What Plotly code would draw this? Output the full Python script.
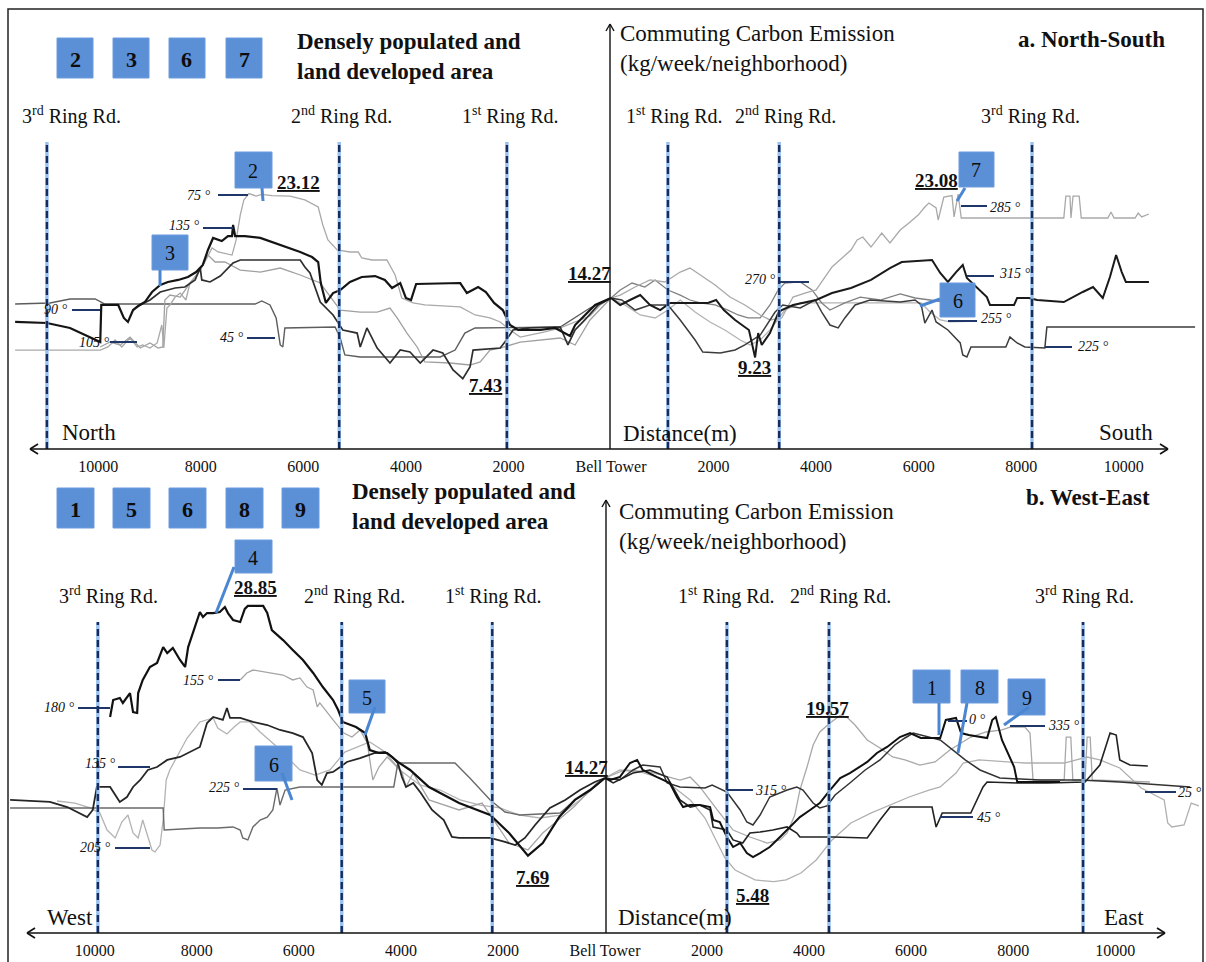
import plotly.graph_objects as go

W, H = 1206, 962
SERIF = "Liberation Serif, Times New Roman, Times, serif"

# ---------------- axis ticks ----------------
tick_vals = [-10000, -8000, -6000, -4000, -2000, 0, 2000, 4000, 6000, 8000, 10000]
tick_text = ["10000", "8000", "6000", "4000", "2000", "Bell Tower",
             "2000", "4000", "6000", "8000", "10000"]

# ring roads (distance from Bell Tower, m; negative = North / West)
a_rings = [-11000, -5300, -2030, 1110, 3280, 8210]
b_rings = [-9940, -5160, -2210, 2390, 4390, 9370]

# ================= panel a : North-South =================
# North side
a_n75_d = [-11620, -9960, -9810, -9670, -9540, -9380, -9240, -9130, -8990, -8850, -8760, -8720, -8660, -8600, -8500, -8400, -8290, -8210, -8070, -7920, -7780, -7660, -7390, -7310, -7230, -7160, -7060, -6920, -6810, -6610, -6260, -5970, -5710, -5620, -5520, -5340, -5090, -4930, -4860, -4660, -4370, -4210, -4080, -3860, -3630, -3240, -2940, -2650, -2360, -2160, -1970, -1770, -1580, -1290, -990, -700, -410, -210, 0]
a_n75_v = [9.86, 9.86, 10.12, 10.71, 10.12, 10.88, 10.12, 10.29, 10.03, 10.46, 11.98, 10.03, 13.42, 13.68, 14.35, 14.69, 14.10, 15.54, 16.30, 17.32, 18.51, 18.17, 17.91, 19.19, 21.30, 22.58, 23.12, 22.91, 23.05, 22.95, 22.91, 22.58, 21.98, 20.46, 19.19, 18.34, 18.17, 18.17, 17.66, 17.49, 17.49, 16.22, 14.27, 13.85, 13.68, 13.59, 13.51, 12.83, 12.58, 12.24, 11.56, 10.96, 11.13, 11.39, 11.73, 12.24, 12.74, 13.68, 14.27]

a_n135_d = [-11620, -11000, -10550, -10260, -10060, -9960, -9940, -9610, -9500, -9420, -9320, -9220, -9090, -8950, -8790, -8640, -8440, -8250, -8090, -7960, -7860, -7760, -7590, -7470, -7390, -7370, -7330, -7140, -6840, -6550, -6260, -6060, -5830, -5710, -5660, -5560, -5420, -5280, -5090, -4860, -4600, -4410, -4270, -4110, -4000, -3900, -3800, -2940, -2810, -2590, -2440, -2280, -2110, -1970, -1810, -1380, -1090, -900, -800, -700, -510, -310, 0]
a_n135_v = [12.24, 12.15, 11.73, 11.13, 10.71, 10.54, 13.68, 13.68, 12.58, 12.24, 13.25, 13.59, 13.93, 14.78, 15.37, 15.63, 15.80, 16.05, 16.47, 17.07, 18.34, 19.36, 19.10, 19.52, 19.52, 20.46, 19.52, 19.52, 19.36, 18.93, 18.51, 18.17, 17.74, 17.32, 15.54, 13.85, 14.69, 14.95, 15.63, 16.05, 16.13, 15.80, 15.12, 15.54, 14.27, 14.10, 15.46, 15.54, 14.69, 15.20, 14.78, 13.85, 13.25, 11.98, 11.56, 11.56, 11.73, 11.30, 11.05, 11.98, 12.83, 13.68, 14.27]

a_n90_d = [-9220, -8990, -8790, -8500, -8310, -8110, -8010, -7980, -7820, -7620, -7370, -7230, -6060, -5970, -5870, -5670, -5420, -5230, -4950, -4890, -4760, -4560, -4310, -4110, -3920, -3720, -3470, -3280, -3080, -2890, -2750, -2690, -2160, -2070, -1910, -1580, -990, -840, -700, -510, -250, 0]
a_n90_v = [13.59, 14.10, 14.78, 15.12, 15.20, 15.80, 16.81, 15.80, 15.63, 16.13, 17.24, 17.49, 17.49, 16.90, 16.39, 13.93, 12.83, 11.56, 11.30, 10.12, 11.73, 10.03, 8.76, 9.86, 9.69, 8.76, 9.86, 9.61, 8.17, 7.43, 8.42, 9.86, 10.03, 10.54, 11.56, 11.73, 11.81, 10.29, 11.56, 12.41, 13.68, 14.27]

a_n45_d = [-11620, -10940, -10550, -10060, -9870, -6940, -6810, -6650, -6530, -6450, -6400, -6360, -5380, -5280, -5190, -4890, -3330, -3040, -2850, -2650, -990, -700, -410, 0]
a_n45_v = [13.76, 13.85, 14.19, 14.19, 13.76, 13.76, 14.02, 13.68, 12.58, 10.29, 10.12, 11.73, 11.81, 10.88, 9.44, 9.27, 9.27, 9.86, 11.30, 11.73, 11.81, 12.58, 13.42, 14.27]

a_n105_d = [-9960, -9770, -9570, -9380, -9180, -8990, -8830, -8740, -8700, -8600, -8400, -8210, -8010, -7860, -7720, -7530, -7230, -6840, -6450, -6060, -5670, -5280, -4890, -4560, -4310, -4170, -3980, -3780, -3630, -3140, -2750, -2550, -2360, -2160, -1770, -1380, -990, -700, -410, 0]
a_n105_v = [10.12, 10.54, 10.29, 10.96, 10.03, 10.46, 10.03, 10.12, 14.10, 14.52, 14.35, 15.54, 16.64, 17.91, 17.32, 17.32, 16.64, 16.47, 16.81, 16.22, 15.54, 13.25, 13.08, 13.08, 13.42, 12.58, 11.30, 10.12, 8.85, 8.76, 8.59, 8.85, 9.86, 10.03, 10.54, 10.71, 10.88, 10.29, 12.41, 14.27]

# South side
a_s285_d = [0, 180, 470, 760, 1050, 1350, 1540, 1740, 2030, 2320, 2610, 2910, 3100, 3330, 3550, 3780, 4000, 4310, 4560, 4680, 4800, 4910, 5070, 5280, 5440, 5640, 5810, 5990, 6120, 6200, 6340, 6380, 6490, 6650, 6690, 6770, 6830, 8830, 8870, 8950, 8970, 9010, 9130, 9170, 9690, 9750, 9810, 10220, 10280, 10350, 10490]
a_s285_v = [14.27, 14.52, 15.20, 15.80, 15.63, 16.47, 16.81, 16.22, 15.37, 14.35, 13.68, 12.83, 12.41, 12.58, 14.35, 14.69, 14.95, 16.90, 17.91, 18.34, 19.19, 19.44, 18.59, 19.78, 18.93, 20.03, 20.63, 21.30, 21.98, 22.32, 21.90, 20.88, 22.83, 22.95, 21.14, 23.08, 21.05, 21.05, 22.90, 22.90, 21.05, 22.90, 22.90, 21.05, 21.05, 21.56, 21.05, 21.05, 21.47, 21.14, 21.39]

a_s315_d = [0, 180, 370, 570, 760, 960, 1150, 1890, 2050, 2200, 2420, 2690, 2810, 2870, 2940, 3100, 3260, 3330, 3550, 3860, 4000, 4310, 4680, 5070, 5440, 5670, 6260, 6420, 6570, 6730, 6860, 6940, 7330, 7390, 7860, 7920, 8150, 8310, 8830, 9200, 9400, 9590, 9730, 9850, 9960, 10040, 10490]
a_s315_v = [14.27, 13.68, 14.10, 14.52, 13.68, 13.25, 13.85, 13.85, 14.10, 13.25, 12.41, 11.56, 9.23, 11.30, 10.29, 11.30, 13.00, 13.25, 13.68, 13.93, 14.10, 14.69, 15.12, 15.80, 16.81, 17.32, 17.49, 16.39, 15.63, 16.47, 17.07, 15.96, 14.35, 13.68, 13.68, 14.27, 14.27, 14.10, 13.93, 14.78, 15.20, 14.27, 16.05, 17.91, 16.47, 15.63, 15.63]

a_s225_d = [0, 210, 470, 760, 1110, 1350, 1640, 1790, 2130, 2420, 2610, 2910, 3200, 3350, 3690, 3980, 4110, 4270, 4430, 4560, 4760, 5050, 5640, 5930, 6050, 6120, 6260, 6340, 6570, 6810, 6860, 6940, 7020, 7700, 7780, 7920, 8070, 8460, 8500, 11390]
a_s225_v = [14.27, 14.10, 13.25, 13.68, 13.68, 12.41, 10.71, 9.69, 9.61, 9.86, 10.29, 11.13, 13.08, 13.68, 13.42, 14.10, 13.08, 11.98, 11.73, 12.58, 13.68, 14.10, 13.93, 14.10, 13.68, 12.15, 13.25, 12.24, 11.56, 10.46, 9.44, 9.27, 10.12, 10.12, 10.96, 10.46, 10.12, 10.03, 11.81, 11.81]

a_s255_d = [0, 270, 570, 860, 1110, 1350, 1640, 1930, 2220, 2520, 2710, 2910, 3100, 3390, 3690, 6050, 6220, 6420, 6610, 7140]
a_s255_v = [14.27, 13.68, 12.83, 12.58, 13.25, 14.10, 13.08, 12.24, 11.56, 10.71, 10.29, 10.71, 11.56, 13.25, 13.85, 13.85, 13.08, 12.41, 12.24, 12.32]

a_s270_d = [0, 180, 410, 660, 860, 1110, 1350, 1540, 1740, 2030, 2280, 2480, 2670, 2910, 3100, 3260, 3390, 3690, 3920, 4110, 4270, 4560, 4860, 5250, 5640, 5930, 6220, 6610]
a_s270_v = [14.27, 14.95, 15.54, 15.20, 15.80, 14.95, 14.52, 14.10, 13.85, 13.68, 13.25, 12.83, 12.58, 12.58, 13.68, 14.95, 15.54, 15.63, 14.95, 13.85, 13.25, 13.85, 14.35, 14.10, 14.61, 14.27, 14.10, 13.85]

# ================= panel b : West-East =================
# West side
b_w180_d = [-9700, -9640, -9510, -9450, -9310, -9250, -9170, -9150, -9060, -8920, -8780, -8660, -8580, -8470, -8330, -8230, -8170, -8080, -8000, -7940, -7880, -7800, -7680, -7550, -7450, -7390, -7290, -7150, -7060, -7000, -6700, -6620, -6530, -6310, -6120, -5920, -5720, -5530, -5330, -5230, -5140, -4880, -4700, -4610, -4430, -4270, -4060, -3820, -3450, -2860, -2250, -1880, -1510, -1220, -900, -590, -290, 0]
b_w180_v = [19.44, 20.88, 21.05, 20.63, 21.47, 19.86, 19.78, 21.47, 22.58, 23.68, 24.02, 25.37, 24.86, 25.29, 24.27, 23.68, 25.37, 26.56, 27.66, 28.34, 27.91, 28.25, 28.25, 28.34, 28.76, 28.25, 27.66, 27.49, 28.60, 28.85, 28.85, 28.25, 26.81, 25.96, 25.12, 24.27, 23.17, 21.98, 20.88, 20.03, 19.02, 18.59, 18.08, 16.64, 16.39, 16.39, 15.63, 14.95, 13.51, 12.15, 11.13, 9.61, 7.69, 8.76, 10.96, 12.41, 13.25, 14.27]

b_w135_d = [-11660, -10880, -10540, -10150, -10040, -9960, -9700, -9510, -9370, -9250, -9110, -8960, -8780, -8580, -8330, -8130, -7940, -7800, -7680, -7490, -7410, -7350, -7150, -6900, -6620, -6370, -6120, -5920, -5740, -5640, -5550, -5450, -5330, -5190, -5060, -4800, -4510, -4310, -4170, -4060, -3980, -3900, -3760, -3610, -3390, -3160, -3000, -2860, -2250, -1960, -1760, -1570, -1370, -1080, -780, -490, -200, 0]
b_w135_v = [12.41, 12.24, 11.81, 10.96, 11.56, 13.51, 13.51, 12.24, 12.66, 13.51, 14.10, 14.95, 15.20, 15.80, 16.05, 16.47, 16.90, 18.93, 19.44, 19.19, 20.20, 19.36, 19.36, 19.02, 18.76, 18.34, 18.08, 17.74, 16.39, 14.10, 13.68, 14.69, 14.78, 15.20, 15.63, 15.96, 16.39, 16.47, 16.05, 15.54, 14.35, 13.51, 13.85, 13.00, 11.56, 10.71, 9.27, 9.19, 9.19, 8.85, 8.59, 9.19, 10.29, 11.73, 12.41, 13.25, 13.93, 14.27]

b_w225_d = [-11660, -8660, -8640, -7940, -7600, -7290, -7150, -7100, -7000, -6900, -6760, -6620, -6510, -6430, -6370, -6270, -5980, -5190, -4140, -4060, -2940, -2650, -2250, -1960, -1670, -880, -590, -290, 0]
b_w225_v = [11.73, 11.73, 9.86, 10.03, 10.03, 10.12, 9.86, 9.19, 9.02, 10.12, 10.71, 10.96, 11.56, 13.42, 11.98, 13.25, 13.51, 13.51, 13.51, 15.54, 15.54, 14.27, 12.41, 11.39, 11.13, 11.30, 12.41, 13.25, 14.27]

b_w155_d = [-7150, -7020, -6900, -6620, -6310, -6120, -5980, -5840, -5720, -5640, -5590, -5330, -5120, -4960, -4800, -4660, -4550, -4430, -4270, -3980, -3900, -3760, -3450, -2860, -2410, -2180, -1880, -1510, -1220, -610, -160, 0]
b_w155_v = [22.58, 23.17, 23.42, 23.25, 23.00, 22.58, 22.75, 21.98, 21.73, 20.29, 20.63, 19.19, 18.08, 17.74, 18.34, 17.24, 14.10, 15.20, 16.05, 14.78, 13.51, 14.69, 12.41, 11.56, 12.15, 10.71, 8.76, 8.17, 9.61, 11.81, 13.85, 14.27]

b_w205_d = [-10740, -10390, -10090, -9900, -9760, -9600, -9470, -9350, -9250, -9150, -9060, -8960, -8880, -8820, -8720, -8660, -8600, -8530, -8330, -8190, -7940, -7680, -7590, -7410, -7270, -7150, -6960, -6760, -6470, -6170, -5980, -5680, -5390, -5100, -4900, -4610, -4310, -4020, -3630, -3230, -2840, -2450, -2060, -1670, -1270, -880, -490, 0]
b_w205_v = [12.32, 12.15, 11.73, 11.30, 9.86, 9.19, 10.54, 11.13, 9.61, 9.19, 10.71, 9.19, 8.17, 8.00, 8.59, 10.71, 14.10, 14.95, 16.47, 17.66, 19.02, 19.36, 18.51, 18.00, 18.59, 19.02, 19.02, 18.17, 17.07, 15.80, 14.95, 14.52, 14.95, 16.47, 16.81, 17.32, 16.47, 14.95, 13.68, 13.25, 12.41, 11.98, 11.73, 11.13, 10.88, 11.13, 12.41, 14.27]

# East side
b_e315_d = [0, 290, 550, 740, 1080, 1220, 1470, 1960, 2100, 2390, 2650, 2780, 2900, 3040, 3230, 3570, 3760, 3880, 4080, 4210, 4350, 4510, 4800, 5100, 5390, 5680, 5880, 6040, 6570, 6760, 7060, 7350, 7740, 8530, 9310, 10090, 10880, 11470]
b_e315_v = [14.27, 14.10, 14.95, 15.37, 15.20, 13.85, 13.51, 13.42, 13.68, 13.08, 11.56, 10.54, 10.29, 11.13, 12.66, 13.25, 13.51, 13.25, 12.15, 11.73, 11.90, 12.83, 13.85, 14.95, 15.80, 17.07, 17.66, 18.08, 17.49, 16.81, 15.80, 14.95, 14.27, 14.10, 14.10, 13.93, 13.68, 13.51]

b_e45_d = [0, 160, 550, 880, 1220, 1470, 1670, 1860, 2060, 2120, 2390, 2510, 2700, 2840, 3040, 3290, 3570, 3760, 3820, 4470, 5140, 5390, 5590, 6410, 6490, 6610, 7170, 7290, 7410, 7490, 8080, 8680, 9410, 9700, 9900, 10020, 10090, 10290, 10640]
b_e45_v = [14.27, 13.85, 14.69, 14.95, 14.35, 12.41, 11.81, 11.98, 11.56, 10.12, 9.86, 9.02, 8.76, 9.61, 9.69, 9.86, 10.12, 9.61, 9.27, 9.27, 9.19, 10.71, 11.81, 11.81, 10.12, 11.30, 11.30, 12.41, 13.51, 13.93, 13.85, 13.85, 13.93, 15.37, 18.08, 17.91, 15.80, 15.37, 15.29]

b_e0_d = [0, 100, 290, 490, 630, 740, 1020, 1270, 1410, 1530, 1670, 1860, 2060, 2120, 2250, 2390, 2510, 2650, 2780, 2900, 3040, 3230, 3430, 3630, 3820, 4020, 4210, 4410, 4610, 4800, 5000, 5140, 5330, 5530, 5780, 5980, 6190, 6570, 6680, 6880, 6980, 7130, 7490, 7590, 7660, 7780, 8020, 8080, 8920]
b_e0_v = [14.27, 14.10, 14.35, 15.54, 15.80, 14.95, 14.35, 13.85, 12.66, 11.81, 11.98, 11.98, 11.81, 10.71, 10.54, 9.27, 8.42, 8.76, 7.91, 7.57, 7.91, 8.42, 9.27, 10.12, 10.96, 11.56, 12.15, 13.25, 14.27, 14.69, 15.20, 15.63, 16.39, 16.90, 17.74, 18.08, 17.66, 17.66, 19.19, 19.36, 18.08, 17.91, 17.66, 19.19, 19.44, 17.49, 15.20, 13.93, 13.93]

b_e335_d = [0, 390, 880, 1470, 1670, 1860, 2200, 2510, 2840, 3180, 3430, 3570, 3720, 3820, 3960, 4080, 4210, 4410, 4610, 4740, 4900, 5140, 5390, 5640, 5880, 6170, 6470, 6760, 7170, 7470, 7780, 7940, 8230, 8330, 8390, 9000, 9040, 9130, 9170, 9410, 9450, 9510, 9550, 10680]
b_e335_v = [14.27, 14.95, 14.78, 14.10, 14.35, 13.51, 11.56, 9.86, 9.27, 8.76, 9.02, 9.61, 11.13, 13.25, 15.20, 17.07, 18.17, 18.93, 19.57, 19.44, 18.76, 17.49, 16.81, 16.05, 15.80, 15.37, 15.63, 16.64, 17.74, 18.17, 18.34, 18.59, 18.59, 18.08, 14.10, 14.10, 17.74, 17.74, 14.10, 14.10, 17.74, 17.74, 14.10, 13.93]

b_e25_d = [0, 290, 690, 1080, 1370, 1670, 1960, 2180, 2350, 2550, 2940, 3310, 3550, 3840, 4140, 4450, 4820, 5210, 5660, 5960, 6350, 6570, 6880, 7020, 7330, 8230, 9000, 9450, 9700, 10090, 10510, 10960, 11030, 11110, 11350, 11490, 11640]
b_e25_v = [14.27, 14.95, 14.78, 14.27, 13.42, 12.41, 10.88, 9.02, 7.49, 6.47, 5.63, 5.48, 5.63, 6.22, 7.32, 9.02, 10.46, 11.30, 12.15, 12.66, 13.25, 13.51, 14.69, 15.54, 15.80, 15.54, 15.54, 16.05, 15.80, 15.12, 13.42, 12.41, 10.46, 10.12, 10.29, 12.15, 11.90]

# ---------------- build figure ----------------
fig = go.Figure()

series_a = [
    (a_n45_d, a_n45_v, "#5c5c5c", 1.4), (a_n105_d, a_n105_v, "#a0a0a0", 1.3),
    (a_n75_d, a_n75_v, "#a9a9a9", 1.3), (a_n90_d, a_n90_v, "#2e2e2e", 1.7),
    (a_n135_d, a_n135_v, "#141414", 2.2),
    (a_s255_d, a_s255_v, "#b3b3b3", 1.3), (a_s270_d, a_s270_v, "#808080", 1.3),
    (a_s285_d, a_s285_v, "#a9a9a9", 1.3), (a_s225_d, a_s225_v, "#3c3c3c", 1.5),
    (a_s315_d, a_s315_v, "#1a1a1a", 2.0),
]
series_b = [
    (b_w205_d, b_w205_v, "#b3b3b3", 1.3), (b_w155_d, b_w155_v, "#a5a5a5", 1.3),
    (b_w225_d, b_w225_v, "#6a6a6a", 1.4), (b_w135_d, b_w135_v, "#262626", 1.8),
    (b_w180_d, b_w180_v, "#111111", 2.2),
    (b_e25_d, b_e25_v, "#b0b0b0", 1.3), (b_e335_d, b_e335_v, "#a8a8a8", 1.3),
    (b_e315_d, b_e315_v, "#333333", 1.5), (b_e45_d, b_e45_v, "#222222", 1.6),
    (b_e0_d, b_e0_v, "#111111", 2.0),
]
for d, v, c, w in series_a:
    fig.add_trace(go.Scatter(x=d, y=v, mode="lines", line=dict(color=c, width=w),
                             xaxis="x", yaxis="y", hoverinfo="skip", showlegend=False))
for d, v, c, w in series_b:
    fig.add_trace(go.Scatter(x=d, y=v, mode="lines", line=dict(color=c, width=w),
                             xaxis="x2", yaxis="y2", hoverinfo="skip", showlegend=False))


def X(px):
    return px / W


def Y(py):
    return 1 - py / H


shapes = []
annotations = []


def seg(x0, y0, x1, y1, color="#111111", width=1.5):
    shapes.append(dict(type="line", xref="paper", yref="paper", x0=X(x0), y0=Y(y0),
                       x1=X(x1), y1=Y(y1), line=dict(color=color, width=width)))


def text(s, px, py, size=20, anchor="left", bold=False, italic=False, color="#111111"):
    if bold:
        s = "<b>" + s + "</b>"
    if italic:
        s = "<i>" + s + "</i>"
    annotations.append(dict(text=s, x=X(px), y=Y(py), xref="paper", yref="paper",
                            xanchor=anchor, yanchor="middle", showarrow=False, align="left",
                            font=dict(family=SERIF, size=size, color=color)))


BLUE = "#5b8fd6"
LEAD = "#4a86d2"
NAVY = "#1f3768"


def box(x0, y0, x1, y1, label, size=18, bold=False):
    shapes.append(dict(type="rect", xref="paper", yref="paper", x0=X(x0), y0=Y(y1),
                       x1=X(x1), y1=Y(y0), fillcolor=BLUE, line=dict(color="#6b9bdc", width=1)))
    text(label, (x0 + x1) / 2, (y0 + y1) / 2 + 1, size=size, anchor="center", bold=bold,
         color="#0d0d0d")


# ring road dashed lines
for d in a_rings:
    shapes.append(dict(type="line", xref="x", yref="paper", x0=d, x1=d, y0=Y(449), y1=Y(142),
                       line=dict(color="rgba(135,185,235,0.85)", width=3.5)))
    shapes.append(dict(type="line", xref="x", yref="paper", x0=d, x1=d, y0=Y(449), y1=Y(142),
                       line=dict(color="#172b5c", width=2.4, dash="7px,4px")))
for d in b_rings:
    shapes.append(dict(type="line", xref="x2", yref="paper", x0=d, x1=d, y0=Y(933), y1=Y(622),
                       line=dict(color="rgba(135,185,235,0.85)", width=3.5)))
    shapes.append(dict(type="line", xref="x2", yref="paper", x0=d, x1=d, y0=Y(933), y1=Y(622),
                       line=dict(color="#172b5c", width=2.4, dash="7px,4px")))

# frame
shapes.append(dict(type="rect", xref="paper", yref="paper", x0=X(8), y0=Y(990), x1=X(1203), y1=Y(9),
                   line=dict(color="#222222", width=1.5), fillcolor="rgba(0,0,0,0)"))

# axes with arrows
for ya, xl, xr, xv, ytop in [(449, 30, 1168, 610, 24), (933, 27, 1165, 606, 500)]:
    seg(xl, ya, xr, ya, width=1.6)
    seg(xl, ya, xl + 8, ya - 5, width=1.6)
    seg(xl, ya, xl + 8, ya + 5, width=1.6)
    seg(xr, ya, xr - 8, ya - 5, width=1.6)
    seg(xr, ya, xr - 8, ya + 5, width=1.6)
    seg(xv, ya, xv, ytop, width=1.4)
    seg(xv, ytop, xv - 4, ytop + 7, width=1.4)
    seg(xv, ytop, xv + 4, ytop + 7, width=1.4)

# ---------- panel a texts ----------
for i, lab in enumerate(["2", "3", "6", "7"]):
    x0 = [57, 113, 169, 226][i]
    box(x0, 38, x0 + 36, 78, lab, size=22, bold=True)
text("Densely populated and<br>land developed area", 295, 56, size=23, bold=True)
text("Commuting Carbon Emission<br>(kg/week/neighborhood)", 618, 48, size=23)
text("a. North-South", 1016, 39, size=23, bold=True)
ring_a_lbl = ["3<sup>rd</sup> Ring Rd.", "2<sup>nd</sup> Ring Rd.", "1<sup>st</sup> Ring Rd.",
              "1<sup>st</sup> Ring Rd.", "2<sup>nd</sup> Ring Rd.", "3<sup>rd</sup> Ring Rd."]
for lab, cx in zip(ring_a_lbl, [71, 341, 510, 674, 785, 1030]):
    text(lab, cx, 115, size=20, anchor="center")
text("North", 60, 432, size=23)
text("Distance(m)", 621, 433, size=23)
text("South", 1097, 432, size=23)

for lab, xe, y in [("75 °", 213, 195), ("135 °", 202, 226), ("90 °", 70, 309),
                   ("105 °", 112, 342), ("45 °", 246, 337), ("270 °", 778, 279)]:
    text(lab, xe, y, size=14, anchor="right", italic=True)
for lab, xs, y in [("315 °", 997, 273), ("255 °", 979, 318), ("225 °", 1076, 347), ("285 °", 988, 207)]:
    text(lab, xs, y, size=14, anchor="left", italic=True)
for x0, y0, x1, y1 in [(218, 195, 248, 195), (203, 228, 233, 228), (72, 310, 100, 310),
                       (110, 342, 137, 342), (247, 338, 275, 338), (780, 282, 809, 282),
                       (967, 276, 994, 276), (948, 321, 977, 321), (1045, 347, 1072, 347),
                       (961, 206, 987, 206)]:
    seg(x0, y0, x1, y1, color=NAVY, width=2)

for lab, xs, y in [("23.12", 275, 182), ("7.43", 467, 385), ("14.27", 566, 273),
                   ("9.23", 736, 367), ("23.08", 913, 180)]:
    text("<u>" + lab + "</u>", xs, y, size=19, bold=True)

box(235, 152, 272, 188, "2", size=20)
box(152, 235, 188, 270, "3", size=20)
box(959, 152, 994, 187, "7", size=20)
box(940, 283, 975, 317, "6", size=20)
for x0, y0, x1, y1 in [(262, 188, 263, 201), (160, 270, 160, 286), (965, 188, 957, 201), (940, 299, 920, 306)]:
    seg(x0, y0, x1, y1, color=LEAD, width=3)

# ---------- panel b texts ----------
for i, lab in enumerate(["1", "5", "6", "8", "9"]):
    x0 = [57, 113, 169, 226, 282][i]
    box(x0, 488, x0 + 37, 528, lab, size=22, bold=True)
text("Densely populated and<br>land developed area", 350, 506, size=23, bold=True)
text("Commuting Carbon Emission<br>(kg/week/neighborhood)", 617, 526, size=23)
text("b. West-East", 1024, 497, size=23, bold=True)
for lab, cx in zip(ring_a_lbl, [108, 354, 493, 726, 840, 1084]):
    text(lab, cx, 595, size=20, anchor="center")
text("West", 45, 917, size=23)
text("Distance(m)", 616, 917, size=23)
text("East", 1102, 917, size=23)

for lab, xe, y in [("180 °", 77, 707), ("155 °", 216, 680), ("135 °", 118, 763),
                   ("225 °", 242, 787), ("205 °", 113, 847)]:
    text(lab, xe, y, size=14, anchor="right", italic=True)
for lab, xs, y in [("315 °", 753, 790), ("0 °", 967, 719), ("335 °", 1046, 725),
                   ("45 °", 975, 817), ("25 °", 1176, 792)]:
    text(lab, xs, y, size=14, anchor="left", italic=True)
for x0, y0, x1, y1 in [(78, 708, 110, 708), (218, 680, 240, 680), (118, 767, 150, 767),
                       (243, 789, 277, 789), (115, 848, 150, 848), (727, 790, 753, 790),
                       (948, 721, 967, 721), (1010, 726, 1045, 726), (940, 817, 973, 817),
                       (1145, 792, 1176, 792)]:
    seg(x0, y0, x1, y1, color=NAVY, width=2)

for lab, xs, y in [("28.85", 232, 587), ("14.27", 563, 767), ("7.69", 514, 877),
                   ("19.57", 804, 708), ("5.48", 734, 895)]:
    text("<u>" + lab + "</u>", xs, y, size=19, bold=True)

box(235, 540, 272, 573, "4", size=20)
box(349, 680, 385, 713, "5", size=20)
box(255, 746, 292, 781, "6", size=20)
box(913, 670, 950, 703, "1", size=20)
box(961, 670, 998, 703, "8", size=20)
box(1008, 679, 1045, 715, "9", size=20)
for x0, y0, x1, y1 in [(234, 567, 216, 613), (375, 707, 365, 735), (282, 773, 292, 800),
                       (939, 703, 939, 735), (967, 703, 958, 753), (1029, 707, 1004, 725)]:
    seg(x0, y0, x1, y1, color=LEAD, width=3)

# ---------------- layout ----------------
common_x = dict(tickvals=tick_vals, ticktext=tick_text, showgrid=False, zeroline=False,
                showline=False, ticks="outside", ticklen=3, tickcolor="rgba(0,0,0,0)",
                tickfont=dict(family=SERIF, size=16, color="#111111"), fixedrange=True)
fig.update_layout(
    width=W, height=H, margin=dict(l=0, r=0, t=0, b=0),
    paper_bgcolor="white", plot_bgcolor="white", showlegend=False,
    xaxis=dict(domain=[0, 1], range=[-11915, 11603], anchor="y", **common_x),
    yaxis=dict(domain=[Y(449), Y(8)], range=[1.473, 38.848], visible=False, fixedrange=True),
    xaxis2=dict(domain=[0, 1], range=[-11858, 11780], anchor="y2", **common_x),
    yaxis2=dict(domain=[Y(933), Y(480)], range=[1.134, 39.526], visible=False, fixedrange=True),
    shapes=shapes, annotations=annotations,
)

fig.write_html("out.html", config={"displayModeBar": False},
               post_script="document.body.style.margin='0px';document.body.style.overflow='hidden';")
